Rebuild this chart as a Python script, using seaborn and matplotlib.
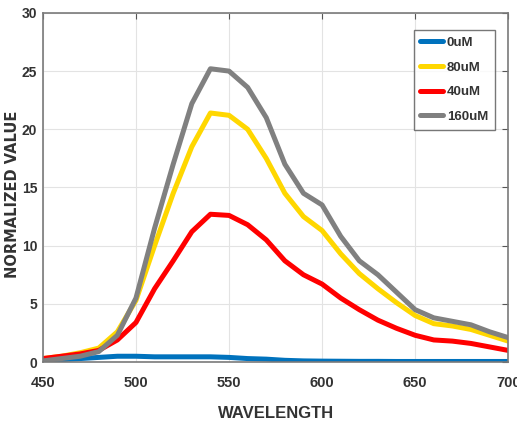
import matplotlib
matplotlib.use("Agg")
import matplotlib.pyplot as plt
import seaborn as sns
import pandas as pd

wavelength = [450, 460, 470, 480, 490, 500, 510, 520, 530, 540, 550, 560, 570,
              580, 590, 600, 610, 620, 630, 640, 650, 660, 670, 680, 690, 700]
val_0uM = [0.1, 0.2, 0.3, 0.4, 0.5, 0.5, 0.45, 0.45, 0.45, 0.45, 0.4, 0.3, 0.25,
           0.15, 0.1, 0.08, 0.07, 0.06, 0.06, 0.05, 0.05, 0.05, 0.05, 0.05, 0.05, 0.05]
val_80uM = [0.3, 0.5, 0.8, 1.2, 2.6, 5.3, 10.0, 14.5, 18.5, 21.4, 21.2, 20.0, 17.5,
            14.5, 12.5, 11.3, 9.3, 7.6, 6.3, 5.1, 4.0, 3.3, 3.1, 2.8, 2.3, 1.8]
val_40uM = [0.3, 0.5, 0.7, 1.0, 1.9, 3.4, 6.3, 8.7, 11.2, 12.7, 12.6, 11.8, 10.5,
            8.7, 7.5, 6.7, 5.5, 4.5, 3.6, 2.9, 2.3, 1.9, 1.8, 1.6, 1.3, 1.0]
val_160uM = [0.1, 0.3, 0.5, 0.9, 2.3, 5.5, 11.5, 17.0, 22.2, 25.2, 25.0, 23.6, 21.0,
             17.0, 14.5, 13.5, 10.8, 8.7, 7.5, 6.0, 4.5, 3.8, 3.5, 3.2, 2.6, 2.1]
series_names = ["0uM", "80uM", "40uM", "160uM"]
colors = ["#0072BD", "#FFD700", "#FF0000", "#808080"]
x_ticks = [450, 500, 550, 600, 650, 700]
y_ticks = [0, 5, 10, 15, 20, 25, 30]

frames = []
for name, vals in zip(series_names, [val_0uM, val_80uM, val_40uM, val_160uM]):
    frames.append(pd.DataFrame({"Wavelength": wavelength, "Value": vals, "Series": name}))
df = pd.concat(frames, ignore_index=True)

sns.set_style("whitegrid")
plt.rcParams["font.family"] = ["Liberation Sans", "DejaVu Sans"]

fig = plt.figure(figsize=(5.17, 4.30), dpi=100)
ax = fig.add_axes([0.083, 0.158, 0.900, 0.812])
sns.lineplot(data=df, x="Wavelength", y="Value", hue="Series", hue_order=series_names,
             palette=colors, linewidth=3.6, ax=ax, legend=True)

ax.set_xlim(450, 700)
ax.set_ylim(0, 30)
ax.set_xticks(x_ticks)
ax.set_yticks(y_ticks)
ax.grid(True, color="#e3e3e3", linewidth=0.8)
for s in ax.spines.values():
    s.set_visible(True)
    s.set_color("#7a7a7a")
    s.set_linewidth(1.2)
ax.tick_params(direction="in", length=4, color="#555555", top=True, right=True,
               labelsize=10.5)
ax.tick_params(axis="x", pad=10)
ax.tick_params(axis="y", pad=4, labelsize=10)
for lab in ax.get_xticklabels() + ax.get_yticklabels():
    lab.set_fontweight("bold")
    lab.set_color("#333333")
ax.set_xlabel("WAVELENGTH", fontsize=12, fontweight="bold", color="#333333")
ax.xaxis.set_label_coords(0.5, -0.125)
ax.set_ylabel("NORMALIZED VALUE", fontsize=10.5, fontweight="bold", color="#333333",
              family=["DejaVu Sans"])
ax.yaxis.set_label_coords(-0.05, 0.48)

leg = ax.legend(loc="upper right", bbox_to_anchor=(0.985, 0.97), frameon=True,
                fancybox=False, edgecolor="#555555", fontsize=9.5,
                handlelength=1.7, handletextpad=0.3, labelspacing=0.95,
                borderpad=0.5)
leg.get_frame().set_linewidth(1.0)
for t in leg.get_texts():
    t.set_fontweight("bold")
    t.set_color("#333333")
for h in leg.get_lines():
    h.set_linewidth(3.6)

fig.savefig("out.png", dpi=100)
